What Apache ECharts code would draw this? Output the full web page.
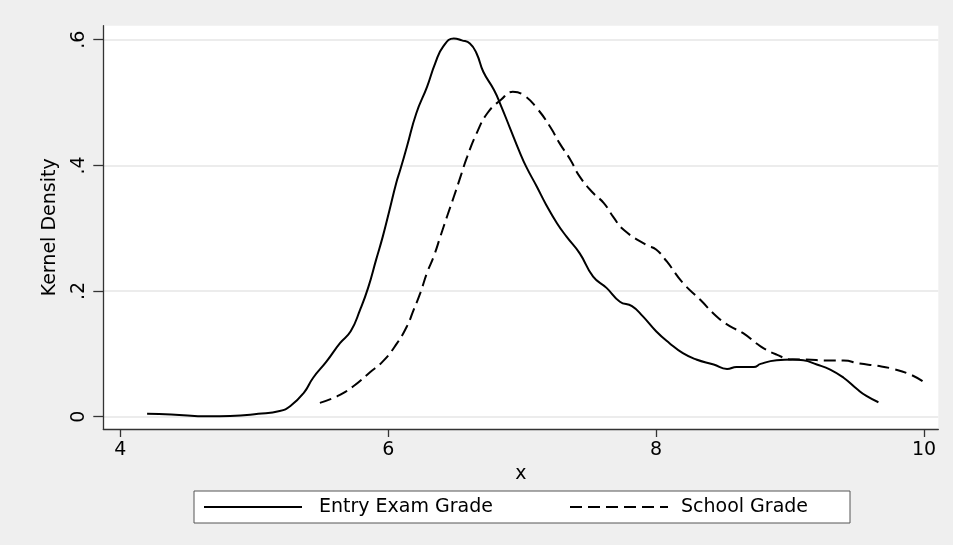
<!DOCTYPE html>
<html>
<head>
<meta charset="utf-8">
<script src="https://cdn.jsdelivr.net/npm/echarts@6/dist/echarts.min.js"></script>
<style>
html,body{margin:0;padding:0;background:#efefef;}
#chart{width:953px;height:545px;}
</style>
</head>
<body>
<div id="chart"></div>
<script>
// ---- data ----
const seriesNames = ['Entry Exam Grade', 'School Grade'];
const xTicks = [4, 6, 8, 10];
const yTicks = [0, 0.2, 0.4, 0.6];

const examX = [4.2, 4.38, 4.66, 4.82, 5.03, 5.19, 5.27, 5.37, 5.44, 5.54, 5.64, 5.72, 5.79, 5.85, 5.91, 5.96, 6.01, 6.06, 6.09, 6.14, 6.21, 6.29, 6.35, 6.41, 6.49, 6.55, 6.61, 6.66, 6.71, 6.79, 6.84, 6.91, 6.98, 7.03, 7.11, 7.18, 7.26, 7.33, 7.43, 7.53, 7.63, 7.73, 7.82, 7.9, 8.0, 8.1, 8.2, 8.3, 8.43, 8.53, 8.6, 8.73, 8.78, 8.9, 9.02, 9.1, 9.2, 9.3, 9.4, 9.5, 9.57, 9.66];
const examY = [0.0045, 0.0035, 0.0005, 0.001, 0.0045, 0.009, 0.017, 0.038, 0.062, 0.088, 0.117, 0.136, 0.17, 0.205, 0.25, 0.287, 0.329, 0.372, 0.393, 0.43, 0.483, 0.525, 0.562, 0.589, 0.602, 0.599, 0.594, 0.578, 0.549, 0.52, 0.496, 0.459, 0.422, 0.398, 0.366, 0.337, 0.308, 0.287, 0.26, 0.223, 0.205, 0.183, 0.176, 0.16, 0.136, 0.117, 0.101, 0.091, 0.083, 0.076, 0.079, 0.079, 0.084, 0.0898, 0.091, 0.0898, 0.083, 0.075, 0.062, 0.044, 0.033, 0.023];

const schoolX = [5.49, 5.62, 5.74, 5.86, 5.96, 6.06, 6.14, 6.19, 6.24, 6.29, 6.34, 6.39, 6.44, 6.49, 6.54, 6.59, 6.66, 6.74, 6.84, 6.93, 7.01, 7.11, 7.21, 7.28, 7.36, 7.43, 7.53, 7.61, 7.68, 7.76, 7.93, 8.0, 8.08, 8.2, 8.33, 8.45, 8.55, 8.65, 8.78, 8.9, 9.02, 9.12, 9.27, 9.4, 9.52, 9.65, 9.77, 9.9, 10.0];
const schoolY = [0.022, 0.0326, 0.0485, 0.07, 0.088, 0.115, 0.144, 0.17, 0.197, 0.229, 0.255, 0.287, 0.319, 0.35, 0.382, 0.414, 0.451, 0.483, 0.504, 0.517, 0.512, 0.491, 0.461, 0.435, 0.409, 0.382, 0.356, 0.34, 0.318, 0.297, 0.273, 0.266, 0.247, 0.213, 0.186, 0.16, 0.144, 0.133, 0.112, 0.0988, 0.091, 0.091, 0.0893, 0.0893, 0.0845, 0.081, 0.076, 0.067, 0.055];

// ---- build chart ----
const FONT = 'DejaVu Sans';
const pair = (xs, ys) => xs.map((x, i) => [x, ys[i]]);
const chart = echarts.init(document.getElementById('chart'), null, {renderer: 'canvas'});

const option = {
  backgroundColor: '#efefef',
  animation: false,
  grid: {
    left: 103.3, top: 25.7, right: 14.7, bottom: 116,
    show: true, backgroundColor: '#ffffff', borderWidth: 0
  },
  xAxis: {
    type: 'value',
    min: 3.873, max: 10.107,
    name: 'x', nameLocation: 'middle', nameGap: 36,
    nameTextStyle: {fontFamily: FONT, fontSize: 19, color: '#000'},
    axisLine: {show: true, onZero: false, lineStyle: {color: '#333', width: 1.3}},
    axisTick: {show: true, customValues: xTicks, length: 8, lineStyle: {color: '#333', width: 1.3}},
    axisLabel: {customValues: xTicks, fontFamily: FONT, fontSize: 19, color: '#000', margin: 12},
    splitLine: {show: false}
  },
  yAxis: {
    type: 'value',
    min: -0.0196, max: 0.6223,
    name: 'Kernel Density', nameLocation: 'middle', nameGap: 44,
    nameTextStyle: {fontFamily: FONT, fontSize: 19, color: '#000'},
    axisLine: {show: true, onZero: false, lineStyle: {color: '#333', width: 1.3}},
    axisTick: {show: true, customValues: yTicks, length: 10, lineStyle: {color: '#333', width: 1.3}},
    axisLabel: {
      customValues: yTicks, rotate: 90, fontFamily: FONT, fontSize: 19, color: '#000', margin: 15,
      formatter: v => (v === 0 ? '0' : String(+v.toFixed(1)).replace(/^0\./, '.'))
    },
    splitLine: {show: true, lineStyle: {color: '#e6e6e6', width: 1.6}}
  },
  legend: {
    left: 194, top: 491,
    orient: 'horizontal',
    backgroundColor: '#fff', borderColor: '#555', borderWidth: 1,
    padding: [6, 27, 6, 9],
    itemWidth: 98, itemHeight: 14, itemGap: 68,
    itemStyle: {opacity: 0},
    data: [
      {name: seriesNames[0], textStyle: {width: 182, padding: [0, 0, 0, 12]}},
      {name: seriesNames[1], textStyle: {width: 142, padding: [0, 0, 0, 8]}}
    ],
    textStyle: {fontFamily: FONT, fontSize: 19, color: '#000', lineHeight: 20}
  },
  series: [
    {
      name: seriesNames[0], type: 'line', data: pair(examX, examY),
      symbol: 'none', smooth: 0.5,
      lineStyle: {color: '#000', width: 2, type: 'solid'},
      itemStyle: {color: '#000'}
    },
    {
      name: seriesNames[1], type: 'line', data: pair(schoolX, schoolY),
      symbol: 'none', smooth: 0.5,
      lineStyle: {color: '#000', width: 2, type: [12, 6]},
      itemStyle: {color: '#000'}
    }
  ]
};
chart.setOption(option);
</script>
</body>
</html>
